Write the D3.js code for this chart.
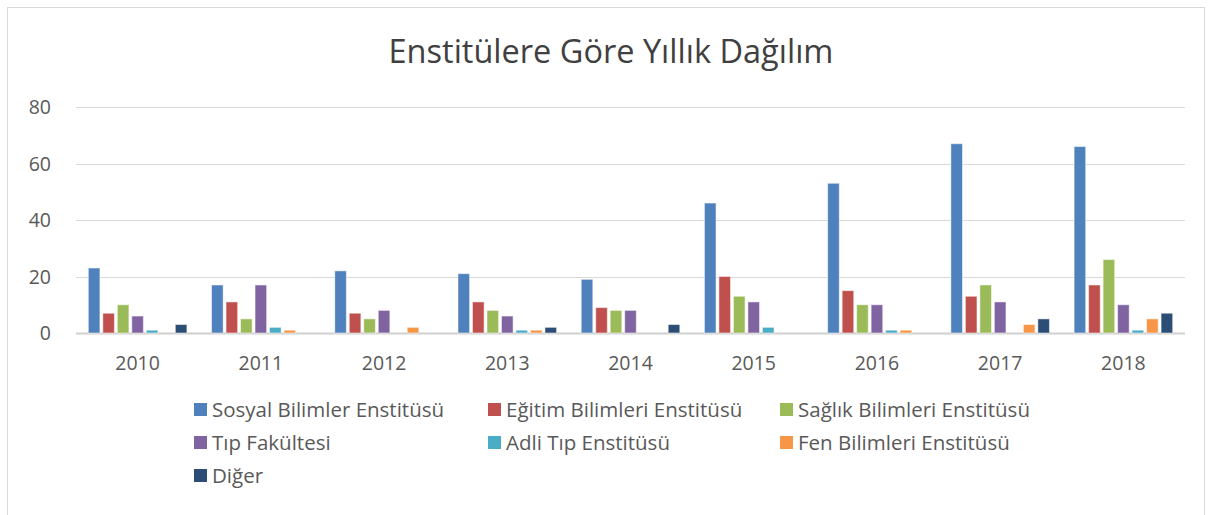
<!DOCTYPE html>
<html>
<head>
<meta charset="utf-8">
<script src="https://cdn.jsdelivr.net/npm/d3@7"></script>
<style>
  body { margin: 0; background: #fff; }
  svg text { font-family: "Open Sans", "Noto Sans", sans-serif; fill: #595959; }
</style>
</head>
<body>
<div id="chart"></div>
<script>
// Chart data
const years = ["2010", "2011", "2012", "2013", "2014", "2015", "2016", "2017", "2018"];
const seriesNames = ["Sosyal Bilimler Enstitüsü", "Eğitim Bilimleri Enstitüsü", "Sağlık Bilimleri Enstitüsü",
  "Tıp Fakültesi", "Adli Tıp Enstitüsü", "Fen Bilimleri Enstitüsü", "Diğer"];
const sosyal = [23, 17, 22, 21, 19, 46, 53, 67, 66];
const egitim = [7, 11, 7, 11, 9, 20, 15, 13, 17];
const saglik = [10, 5, 5, 8, 8, 13, 10, 17, 26];
const tip = [6, 17, 8, 6, 8, 11, 10, 11, 10];
const adli = [1, 2, 0, 1, 0, 2, 1, 0, 1];
const fen = [0, 1, 2, 1, 0, 0, 1, 3, 5];
const diger = [3, 0, 0, 2, 3, 0, 0, 5, 7];
const yTicks = [0, 20, 40, 60, 80];

const colors = ["#4F81BD", "#C0504D", "#9BBB59", "#8064A2", "#4BACC6", "#F79646", "#2C4D75"];
const allSeries = [sosyal, egitim, saglik, tip, adli, fen, diger];

const width = 1212;
const height = 515;
const margin = {left: 76, right: 27, top: 107, bottom: 182};

const svg = d3.select("#chart")
.append("svg")
.attr("width", width)
.attr("height", height);

// outer border
svg.append("rect")
.attr("x", 7.5).attr("y", 7.5)
.attr("width", 1197).attr("height", 520)
.attr("fill", "none")
.attr("stroke", "#d9d9d9");

// title
svg.append("text")
.attr("x", 611).attr("y", 63)
.attr("text-anchor", "middle")
.attr("font-size", "32.5px")
.style("fill", "#404040")
.text("Enstitülere Göre Yıllık Dağılım");

// scales
const yScale = d3.scaleLinear()
.domain([0, 80])
.range([height - margin.bottom + 0, margin.top]);

const xScale = d3.scaleBand()
.domain(years)
.range([margin.left, width - margin.right]);

const xInner = d3.scaleBand()
.domain(d3.range(seriesNames.length))
.range([0, xScale.bandwidth()])
.paddingInner(0.2)
.paddingOuter(0.85);

// gridlines
svg.append("g")
.selectAll("line")
.data(yTicks)
.enter()
.append("line")
.attr("x1", margin.left)
.attr("x2", width - margin.right)
.attr("y1", d => Math.round(yScale(d)) + 0.5)
.attr("y2", d => Math.round(yScale(d)) + 0.5)
.attr("stroke", d => d === 0 ? "#d0d0d0" : "#d9d9d9")
.attr("stroke-width", d => d === 0 ? 2 : 1);

// y tick labels
svg.append("g")
.selectAll("text")
.data(yTicks)
.enter()
.append("text")
.attr("x", 51)
.attr("y", d => yScale(d) + 7)
.attr("text-anchor", "end")
.attr("font-size", "19.5px")
.text(d => d);

// bars
years.forEach((yr, i) => {
  const g = svg.append("g").attr("transform", `translate(${xScale(yr)},0)`);
  g.selectAll("rect")
  .data(allSeries.map((s, k) => ({k: k, v: s[i]})).filter(d => d.v > 0))
  .enter()
  .append("rect")
  .attr("x", d => xInner(d.k))
  .attr("y", d => yScale(d.v))
  .attr("width", xInner.bandwidth())
  .attr("height", d => yScale(0) - yScale(d.v))
  .attr("fill", d => colors[d.k])
  .attr("stroke", "#ffffff")
  .attr("stroke-opacity", 0.5)
  .attr("stroke-width", 1);
});

// x labels
svg.append("g")
.selectAll("text")
.data(years)
.enter()
.append("text")
.attr("x", d => xScale(d) + xScale.bandwidth() / 2)
.attr("y", 370)
.attr("text-anchor", "middle")
.attr("font-size", "19.5px")
.text(d => d);

// legend
const legendX = [194, 488, 780];
const legendY = [410, 443, 476];
const legend = svg.append("g")
.selectAll("g")
.data(seriesNames)
.enter()
.append("g")
.attr("transform", (d, i) => `translate(${legendX[i % 3]},${legendY[Math.floor(i / 3)]})`);

legend.append("rect")
.attr("x", 0).attr("y", -7)
.attr("width", 13).attr("height", 13)
.attr("fill", (d, i) => colors[i]);

legend.append("text")
.attr("x", 18)
.attr("y", 7)
.attr("font-size", "20.5px")
.text(d => d);
</script>
</body>
</html>
